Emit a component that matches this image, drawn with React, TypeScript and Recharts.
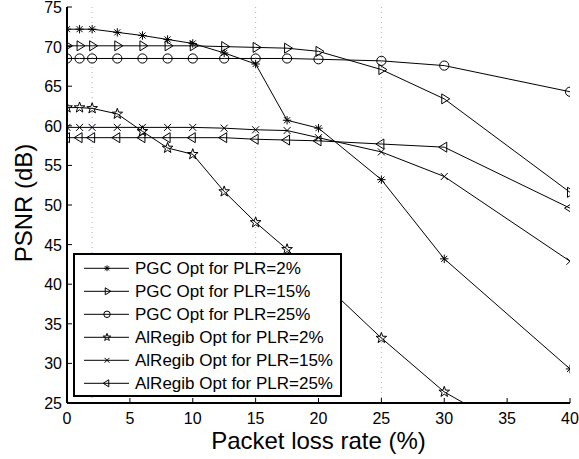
import React from 'react';
import { LineChart, Line, XAxis, YAxis, ReferenceLine, Legend, Label } from 'recharts';

const xs = [0, 1, 2, 4, 6, 8, 10, 12.5, 15, 17.5, 20, 25, 30, 40];
const pgc2 = [72.2, 72.2, 72.2, 71.8, 71.4, 70.9, 70.4, 69.2, 67.8, 60.7, 59.7, 53.2, 43.2, 29.3];
const pgc15 = [70.1, 70.1, 70.1, 70.1, 70.1, 70.1, 70.1, 70.0, 69.9, 69.8, 69.4, 67.1, 63.4, 51.6];
const pgc25 = [68.5, 68.5, 68.5, 68.5, 68.5, 68.5, 68.5, 68.5, 68.5, 68.5, 68.4, 68.2, 67.6, 64.3];
const al2 = [62.3, 62.3, 62.2, 61.5, 59.3, 57.2, 56.4, 51.7, 47.8, 44.4, 40.7, 33.2, 26.4, 17.4];
const al15 = [59.8, 59.8, 59.8, 59.8, 59.8, 59.8, 59.8, 59.7, 59.5, 59.4, 58.5, 56.7, 53.6, 42.9];
const al25 = [58.5, 58.5, 58.5, 58.5, 58.5, 58.5, 58.5, 58.5, 58.3, 58.2, 58.1, 57.7, 57.3, 49.6];

const xTicks = [0, 5, 10, 15, 20, 25, 30, 35, 40];
const yTicks = [25, 30, 35, 40, 45, 50, 55, 60, 65, 70, 75];
const gridXs = [2, 15, 25];

const seriesNames = [
  'PGC Opt for PLR=2%',
  'PGC Opt for PLR=15%',
  'PGC Opt for PLR=25%',
  'AlRegib Opt for PLR=2%',
  'AlRegib Opt for PLR=15%',
  'AlRegib Opt for PLR=25%',
];
const seriesKeys = ['pgc2', 'pgc15', 'pgc25', 'al2', 'al15', 'al25'];
const seriesMarkers = ['asterisk', 'triRight', 'circle', 'pentagram', 'cross', 'triLeft'];

const data = xs.map((x, i) => ({
  x,
  pgc2: pgc2[i],
  pgc15: pgc15[i],
  pgc25: pgc25[i],
  al2: al2[i],
  al15: al15[i],
  al25: al25[i],
}));

const FONT = 'Arial, "Liberation Sans", Helvetica, sans-serif';

function Marker({ kind, cx, cy, s = 1 }: { kind: string; cx: number; cy: number; s?: number }) {
  const st = { stroke: '#000', strokeWidth: 1, fill: 'none' };
  if (kind === 'asterisk') {
    const r = 4.2 * s;
    const d = r * 0.72;
    return (
      <g {...st}>
        <line x1={cx - r} y1={cy} x2={cx + r} y2={cy} />
        <line x1={cx} y1={cy - r} x2={cx} y2={cy + r} />
        <line x1={cx - d} y1={cy - d} x2={cx + d} y2={cy + d} />
        <line x1={cx - d} y1={cy + d} x2={cx + d} y2={cy - d} />
      </g>
    );
  }
  if (kind === 'triRight') {
    const pts = `${cx - 2.5 * s},${cy - 5 * s} ${cx + 5.5 * s},${cy} ${cx - 2.5 * s},${cy + 5 * s}`;
    return <polygon points={pts} {...st} />;
  }
  if (kind === 'triLeft') {
    const pts = `${cx + 2.5 * s},${cy - 5 * s} ${cx - 5.5 * s},${cy} ${cx + 2.5 * s},${cy + 5 * s}`;
    return <polygon points={pts} {...st} />;
  }
  if (kind === 'circle') {
    return <circle cx={cx} cy={cy} r={4.6 * s} {...st} />;
  }
  if (kind === 'cross') {
    const r = 3.5 * s;
    return (
      <g {...st}>
        <line x1={cx - r} y1={cy - r} x2={cx + r} y2={cy + r} />
        <line x1={cx - r} y1={cy + r} x2={cx + r} y2={cy - r} />
      </g>
    );
  }
  // pentagram
  const R = 5.6 * s;
  const r2 = R * 0.4;
  const pts: string[] = [];
  for (let k = 0; k < 10; k++) {
    const ang = -Math.PI / 2 + (k * Math.PI) / 5;
    const rr = k % 2 === 0 ? R : r2;
    pts.push(`${cx + rr * Math.cos(ang)},${cy + rr * Math.sin(ang)}`);
  }
  return <polygon points={pts.join(' ')} {...st} />;
}

const makeDot = (kind: string) => (p: any) => {
  if (p.cx == null || p.cy == null || isNaN(p.cx) || isNaN(p.cy)) return <g key={p.index} />;
  return <Marker key={p.index} kind={kind} cx={p.cx} cy={p.cy} />;
};

const BottomTick = (p: any) => (
  <g>
    <line x1={p.x} x2={p.x} y1={p.y} y2={p.y - 5} stroke="#000" strokeWidth={1} />
    <text x={p.x} y={p.y + 21} textAnchor="middle" fontSize={16} fontFamily={FONT} fill="#000">
      {p.payload.value}
    </text>
  </g>
);
const TopTick = (p: any) => (
  <line x1={p.x} x2={p.x} y1={p.y} y2={p.y + 5} stroke="#000" strokeWidth={1} />
);
const LeftTick = (p: any) => (
  <g>
    <line x1={p.x} x2={p.x + 5} y1={p.y} y2={p.y} stroke="#000" strokeWidth={1} />
    <text x={p.x - 5} y={p.y + 6} textAnchor="end" fontSize={16} fontFamily={FONT} fill="#000">
      {p.payload.value}
    </text>
  </g>
);
const RightTick = (p: any) => (
  <line x1={p.x} x2={p.x - 5} y1={p.y} y2={p.y} stroke="#000" strokeWidth={1} />
);

const XLabel = (p: any) => {
  const vb = p.viewBox || { x: 67, y: 403, width: 503, height: 56 };
  return (
    <text x={vb.x + vb.width / 2} y={vb.y + 46} textAnchor="middle" fontSize={24} fontFamily={FONT} fill="#000">
      Packet loss rate (%)
    </text>
  );
};
const YLabel = (p: any) => {
  const vb = p.viewBox || { x: 0, y: 7, width: 67, height: 396 };
  const cx = 32;
  const cy = vb.y + vb.height / 2 - 2;
  return (
    <text x={cx} y={cy} transform={`rotate(-90, ${cx}, ${cy})`} textAnchor="middle" fontSize={24} fontFamily={FONT} fill="#000">
      PSNR (dB)
    </text>
  );
};

const LegendBox = () => (
  <svg width={270} height={145} style={{ display: 'block' }}>
    <rect x={1} y={1} width={267} height={142} fill="#fff" stroke="#000" strokeWidth={2} />
    {seriesNames.map((name, i) => {
      const cy = 15.3 + i * 23;
      return (
        <g key={name}>
          <line x1={11} x2={56} y1={cy} y2={cy} stroke="#000" strokeWidth={1} />
          <Marker kind={seriesMarkers[i]} cx={34} cy={cy} s={0.7} />
          <text x={62} y={cy + 6} fontSize={17} fontFamily={FONT} fill="#000">
            {name}
          </text>
        </g>
      );
    })}
  </svg>
);

export default function App() {
  return (
    <div style={{ position: 'absolute', left: 0, top: 0, width: 579, height: 459, background: '#fff' }}>
      <LineChart width={579} height={459} data={data} margin={{ top: 7, right: 9, bottom: 0, left: 0 }}>
        <XAxis
          xAxisId="b"
          dataKey="x"
          type="number"
          domain={[0, 40]}
          ticks={xTicks}
          interval={0}
          allowDataOverflow
          height={56}
          tickSize={0}
          tickMargin={0}
          tickLine={false}
          axisLine={{ stroke: '#000', strokeWidth: 2 }}
          tick={BottomTick}
        >
          <Label content={XLabel} />
        </XAxis>
        <XAxis
          xAxisId="t"
          orientation="top"
          dataKey="x"
          type="number"
          domain={[0, 40]}
          ticks={xTicks}
          interval={0}
          allowDataOverflow
          height={0}
          tickSize={0}
          tickMargin={0}
          tickLine={false}
          axisLine={{ stroke: '#000', strokeWidth: 2 }}
          tick={TopTick}
        />
        <YAxis
          yAxisId="l"
          type="number"
          domain={[25, 75]}
          ticks={yTicks}
          interval={0}
          allowDataOverflow
          width={67}
          tickSize={0}
          tickMargin={0}
          tickLine={false}
          axisLine={{ stroke: '#000', strokeWidth: 2 }}
          tick={LeftTick}
        >
          <Label content={YLabel} />
        </YAxis>
        <YAxis
          yAxisId="r"
          orientation="right"
          type="number"
          domain={[25, 75]}
          ticks={yTicks}
          interval={0}
          allowDataOverflow
          width={0}
          tickSize={0}
          tickMargin={0}
          tickLine={false}
          axisLine={{ stroke: '#000', strokeWidth: 2 }}
          tick={RightTick}
        />
        {gridXs.map((gx) => (
          <ReferenceLine
            key={gx}
            x={gx}
            xAxisId="b"
            yAxisId="l"
            stroke="#b8a8d0"
            strokeWidth={1}
            strokeDasharray="1 4"
          />
        ))}
        {seriesKeys.map((k, i) => (
          <Line
            key={k}
            xAxisId="b"
            yAxisId="l"
            dataKey={k}
            name={seriesNames[i]}
            stroke="#000"
            strokeWidth={1}
            dot={makeDot(seriesMarkers[i])}
            activeDot={false}
            isAnimationActive={false}
          />
        ))}
        <Legend
          layout="vertical"
          align="center"
          verticalAlign="middle"
          content={LegendBox}
          wrapperStyle={{ position: 'absolute', left: 73, top: 253, width: 270, height: 145 }}
        />
      </LineChart>
    </div>
  );
}
